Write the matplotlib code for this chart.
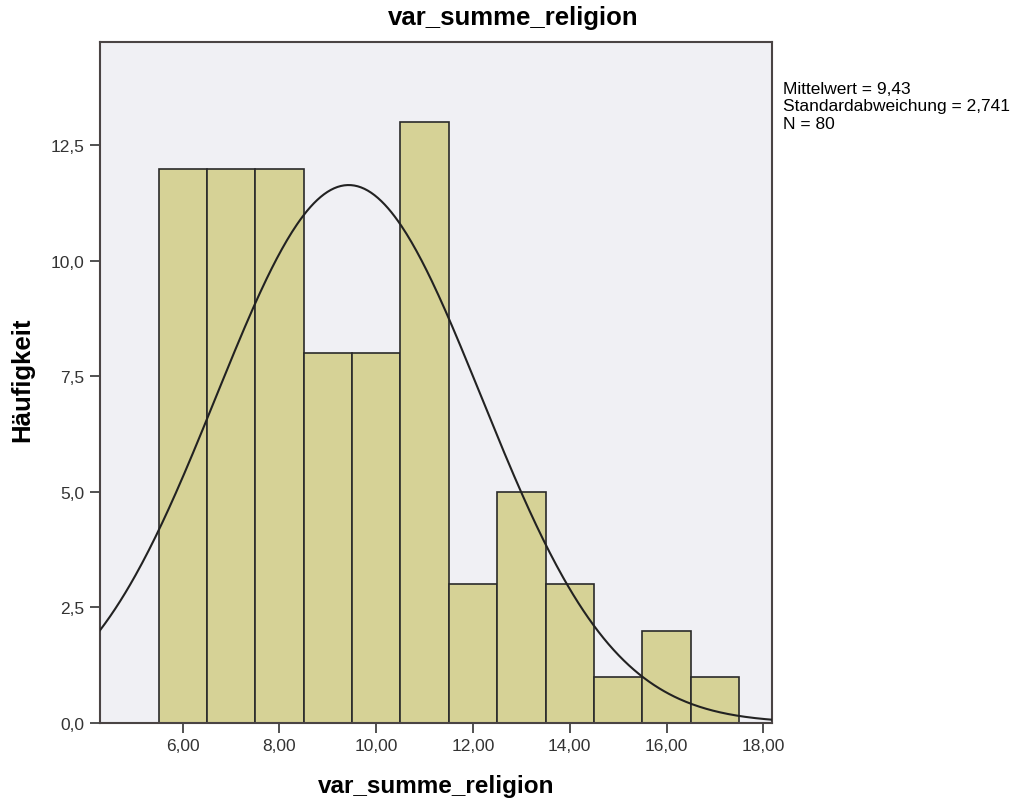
import numpy as np
import matplotlib
matplotlib.use("Agg")
import matplotlib.pyplot as plt

# Data
bin_centers = [6, 7, 8, 9, 10, 11, 12, 13, 14, 15, 16, 17]
counts = [12, 12, 12, 8, 8, 13, 3, 5, 3, 1, 2, 1]
mean = 9.43
std = 2.741
n = 80
xticks = [6, 8, 10, 12, 14, 16, 18]
xtick_labels = ["6,00", "8,00", "10,00", "12,00", "14,00", "16,00", "18,00"]
yticks = [0, 2.5, 5.0, 7.5, 10.0, 12.5]
ytick_labels = ["0,0", "2,5", "5,0", "7,5", "10,0", "12,5"]

plt.rcParams['font.family'] = ['Liberation Sans', 'DejaVu Sans']

fig = plt.figure(figsize=(10.27, 8.03), dpi=100)
ax = fig.add_axes([100/1027, 1-724/803, (772-100)/1027, (724-43)/803])
ax.set_facecolor('#f0f0f4')

ax.bar(bin_centers, counts, width=1.0, color='#d6d296', edgecolor='#2a2a2a', linewidth=1.2, zorder=2)

xmin, xmax = 4.29, 18.18
xs = np.linspace(xmin, xmax, 400)
ys = n * 1.0 * np.exp(-0.5*((xs-mean)/std)**2) / (std*np.sqrt(2*np.pi))
ax.plot(xs, ys, color='#222222', linewidth=1.5, zorder=3)

ax.set_xlim(xmin, xmax)
ax.set_ylim(0, 14.74)
ax.set_xticks(xticks)
ax.set_xticklabels(xtick_labels)
ax.set_yticks(yticks)
ax.set_yticklabels(ytick_labels)
ax.tick_params(axis='both', direction='out', length=7, width=1.2, colors='#333333',
               labelsize=12.5, labelcolor='#333333', pad=4)
for s in ax.spines.values():
    s.set_color('#4a4444')
    s.set_linewidth(1.5)

fig.text(0.5, 1-18/803, "var_summe_religion", ha='center', va='center', fontsize=18.5, fontweight='bold')
fig.text(436/1027, 1-787/803, "var_summe_religion", ha='center', va='center', fontsize=17.5, fontweight='bold')
fig.text(22/1027, 1-380/803, "Häufigkeit", ha='center', va='center', fontsize=18.5, fontweight='bold', rotation=90)
fig.text(783/1027, 1-82/803, "Mittelwert = 9,43\nStandardabweichung = 2,741\nN = 80",
         ha='left', va='top', fontsize=12.5, linespacing=1.2)

fig.savefig("out.png", dpi=100)
